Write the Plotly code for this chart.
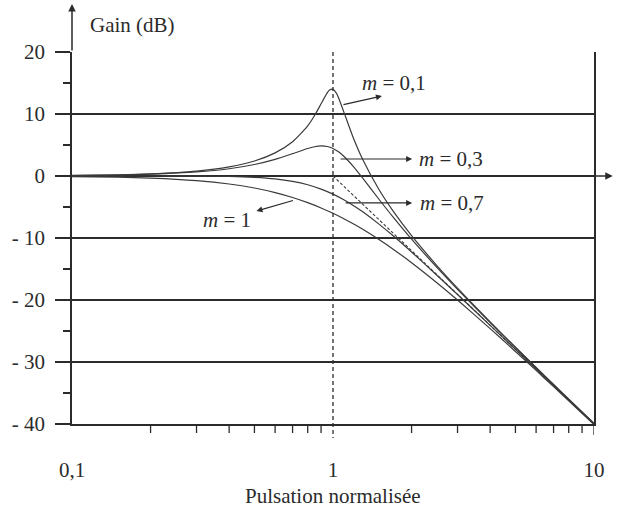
import math
import plotly.graph_objects as go

# Normalised pulsation (x = w / w0) and gain in dB for each damping ratio m
freq_01 = [0.1, 0.15, 0.2, 0.3, 0.4, 0.5, 0.6, 0.7, 0.8, 0.85, 0.9, 0.95, 0.97, 1.0,
           1.03, 1.05, 1.1, 1.2, 1.3, 1.5, 1.7, 2, 2.5, 3, 4, 5, 6, 7, 8, 10]
gain_01 = [0.09, 0.19, 0.35, 0.80, 1.48, 2.42, 3.73, 5.53, 8.09, 9.75, 11.64, 13.41, 13.86, 13.98,
           13.36, 12.63, 10.34, 6.00, 2.65, -2.18, -5.67, -9.62, -14.44, -18.09, -23.53, -27.61,
           -30.89, -33.63, -35.99, -39.91]

freq_03 = [0.1, 0.15, 0.2, 0.3, 0.4, 0.5, 0.6, 0.7, 0.8, 0.85, 0.9, 0.95, 1.0, 1.05,
           1.1, 1.2, 1.3, 1.5, 1.7, 2, 2.5, 3, 4, 5, 6, 7, 8, 10]
gain_03 = [0.07, 0.16, 0.29, 0.65, 1.17, 1.85, 2.68, 3.60, 4.44, 4.72, 4.85, 4.76, 4.44, 3.90,
           3.19, 1.48, -0.35, -3.75, -6.64, -10.19, -14.74, -18.28, -23.63, -27.67, -30.93,
           -33.66, -36.01, -39.93]

freq_std = [0.1, 0.15, 0.2, 0.3, 0.4, 0.5, 0.6, 0.7, 0.8, 0.9, 1.0, 1.1, 1.2, 1.3,
            1.5, 1.7, 2, 2.5, 3, 4, 5, 6, 7, 8, 10]
gain_07 = [0.00, 0.00, 0.00, -0.02, -0.08, -0.22, -0.47, -0.87, -1.41, -2.11, -2.92, -3.83,
           -4.79, -5.78, -7.76, -9.65, -12.26, -16.00, -19.12, -24.09, -27.96, -31.12,
           -33.80, -36.12, -40.00]
gain_1 = [-0.09, -0.19, -0.34, -0.75, -1.29, -1.94, -2.67, -3.46, -4.30, -5.15, -6.02, -6.89,
          -7.75, -8.60, -10.24, -11.80, -13.98, -17.21, -20.00, -24.61, -28.30, -31.36,
          -33.98, -36.26, -40.09]

# High-frequency asymptote (-40 dB/decade)
asym_freq = [1, 10]
asym_gain = [0, -40]

y_major = [20, 10, 0, -10, -20, -30, -40]
y_major_text = ["20", "10", "0", "- 10", "- 20", "- 30", "- 40"]
y_minor = [15, 5, -5, -15, -25, -35]
x_major = [0.1, 1, 10]
x_major_text = ["0,1", "1", "10"]
x_minor = [0.2, 0.3, 0.4, 0.5, 0.6, 0.7, 0.8, 0.9, 2, 3, 4, 5, 6, 7, 8, 9]

INK = "#2b2b2b"
FONT = "Times New Roman, Liberation Serif, serif"
FS = 21
PLOT_H = 372  # plot-area height in px, used to size tick marks

fig = go.Figure()

for fx, gy in [(freq_01, gain_01), (freq_03, gain_03), (freq_std, gain_07), (freq_std, gain_1)]:
    fig.add_trace(go.Scatter(x=fx, y=gy, mode="lines",
                             line=dict(color="#3a3a3a", width=1.2, shape="spline", smoothing=0.6),
                             showlegend=False, hoverinfo="skip"))

fig.add_trace(go.Scatter(x=asym_freq, y=asym_gain, mode="lines",
                         line=dict(color="#3a3a3a", width=1.1, dash="3px,2px"),
                         showlegend=False, hoverinfo="skip"))

shapes = []
# vertical dashed line at the natural pulsation, running into the tick below
shapes.append(dict(type="line", xref="x", yref="paper", x0=1, x1=1, y0=1, y1=-14 / PLOT_H,
                   line=dict(color=INK, width=1.3, dash="4px,3px")))
# minor x ticks
for v in x_minor:
    shapes.append(dict(type="line", xref="x", yref="paper", x0=v, x1=v, y0=0, y1=-9 / PLOT_H,
                       line=dict(color=INK, width=1.3)))
shapes.append(dict(type="line", xref="x", yref="paper", x0=10, x1=10, y0=0, y1=-11 / PLOT_H,
                   line=dict(color=INK, width=1.3)))

annotations = []
# axis arrows
annotations.append(dict(xref="paper", yref="paper", x=0, y=(424 - 4) / PLOT_H, ax=0, ay=48,
                        text="", showarrow=True, arrowhead=2, arrowsize=1, arrowwidth=1.5,
                        arrowcolor=INK))
annotations.append(dict(xref="paper", yref="y", x=(616 - 68) / 529, y=0, ax=-22, ay=0,
                        text="", showarrow=True, arrowhead=2, arrowsize=1, arrowwidth=1.5,
                        arrowcolor=INK))
# axis titles
annotations.append(dict(xref="paper", yref="paper", x=(84 - 68) / 529, y=(424 - 25) / PLOT_H,
                        xanchor="left", yanchor="middle", text="Gain (dB)", showarrow=False,
                        font=dict(family=FONT, size=FS, color=INK)))
annotations.append(dict(xref="paper", yref="paper", x=0.5, y=(424 - 496) / PLOT_H,
                        xanchor="center", yanchor="middle", text="Pulsation normalisée",
                        showarrow=False, font=dict(family=FONT, size=FS, color=INK)))

# curve labels: text plus an arrow running from the curve towards it
labels = [
    ("<i>m</i> = 0,1", 1.72, 15.0, 1.54, 12.9, -40, 9),
    ("<i>m</i> = 0,3", 2.84, 2.74, 2.01, 2.74, -73, 0),
    ("<i>m</i> = 0,7", 2.86, -4.35, 2.01, -4.35, -68, 0),
    ("<i>m</i> = 1", 0.393, -7.1, 0.509, -5.65, 38, -11),
]
for txt, tx, ty, hx, hy, dx, dy in labels:
    annotations.append(dict(xref="x", yref="y", x=math.log10(tx), y=ty,
                            text=txt, showarrow=False,
                            font=dict(family=FONT, size=FS, color=INK)))
    annotations.append(dict(xref="x", yref="y", x=math.log10(hx), y=hy,
                            ax=dx, ay=dy, text="", showarrow=True, arrowhead=2, arrowsize=1,
                            arrowwidth=1.2, arrowcolor=INK))

fig.update_layout(
    width=617, height=510,
    margin=dict(l=68, r=20, t=52, b=86),
    paper_bgcolor="white", plot_bgcolor="white",
    font=dict(family=FONT, size=FS, color=INK),
    shapes=shapes, annotations=annotations,
    xaxis=dict(type="log", range=[-1, 1], tickvals=x_major, ticktext=x_major_text,
               ticks="", showgrid=False, zeroline=False, showline=True,
               linecolor=INK, linewidth=1.8, ticklabelstandoff=26,
               tickfont=dict(family=FONT, size=FS, color=INK)),
    yaxis=dict(range=[-40, 20], tickvals=y_major, ticktext=y_major_text,
               ticks="outside", ticklen=15, tickwidth=1.5, tickcolor=INK,
               showgrid=True, gridcolor=INK, gridwidth=1.5, zeroline=False,
               showline=True, linecolor=INK, linewidth=1.8, mirror=True,
               ticklabelstandoff=6,
               minor=dict(tickvals=y_minor, ticks="outside", ticklen=7, tickwidth=1.5,
                          tickcolor=INK, showgrid=False),
               tickfont=dict(family=FONT, size=FS, color=INK)),
)

fig.write_html("out.html")
